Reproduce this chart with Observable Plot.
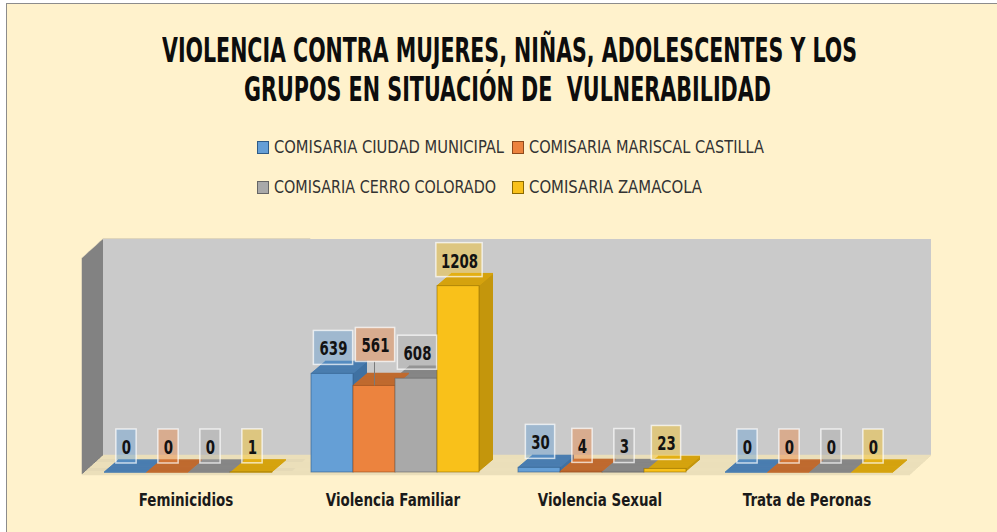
<!DOCTYPE html>
<html>
<head>
<meta charset="utf-8">
<script src="https://cdn.jsdelivr.net/npm/d3@7"></script>
<script src="https://cdn.jsdelivr.net/npm/@observablehq/plot@0.6"></script>
<style>
html, body { margin: 0; padding: 0; width: 997px; height: 532px; overflow: hidden; background: #ffffff; }
#bg { position: absolute; left: 6px; top: 3px; width: 1000px; height: 540px; background: #FFF2CC; border-left: 1px solid #8c8c8c; border-top: 1px solid #8c8c8c; }
.t { position: absolute; white-space: pre; line-height: 1; transform-origin: 0 0;
     font-family: "Liberation Sans Narrow", "DejaVu Sans Condensed", Lato, sans-serif; }
.title { font-size: 33px; font-weight: bold; color: #0d0d0d; }
.leg { font-size: 17px; color: #333333; }
.sw { position: absolute; width: 12px; height: 13px; box-sizing: border-box; border: 1px solid; }
#plot { position: absolute; left: 0; top: 215px; }
</style>
</head>
<body>
<div id="bg"></div>
<div id="plot"></div>
<script>
// ---------- data ----------
const categories = ["Feminicidios", "Violencia Familiar", "Violencia Sexual", "Trata de Peronas"];
const series = ["COMISARIA CIUDAD MUNICIPAL", "COMISARIA MARISCAL CASTILLA", "COMISARIA CERRO COLORADO", "COMISARIA ZAMACOLA"];
const ciudadMunicipal = [0, 639, 30, 0];
const mariscalCastilla = [0, 561, 4, 0];
const cerroColorado = [0, 608, 3, 0];
const zamacola = [1, 1208, 23, 0];
const valueAxis = [0, 1400];
const titleLines = ["VIOLENCIA CONTRA MUJERES, NIÑAS, ADOLESCENTES Y LOS", "GRUPOS EN SITUACIÓN DE  VULNERABILIDAD"];

// ---------- styles ----------
const frontColors = ["#659FD6", "#EC833E", "#A9A9A9", "#F9C11A"];
const sideColors  = ["#3F71A2", "#B0602A", "#7B7B7B", "#C4960C"];
const topColors   = ["#4A7DB0", "#BF6A2F", "#868686", "#D5A30F"];
const edgeColors  = ["#2E5B87", "#8F4A1C", "#666666", "#8C6A00"];
const FF = '"Liberation Sans Narrow", "DejaVu Sans Condensed", Lato, sans-serif';

// ---------- html title + legend ----------
function addText(cls, txt, left, top, w) {
  const el = document.createElement("div");
  el.className = "t " + cls;
  el.textContent = txt;
  el.style.left = left + "px";
  el.style.top = top + "px";
  document.body.appendChild(el);
  const ow = el.getBoundingClientRect().width;
  el.style.transform = `scaleX(${w / ow})`;
  return el;
}
addText("title", titleLines[0], 162, 34, 695);
addText("title", titleLines[1], 244, 73, 527);

const legPos = [[257, 139, 230], [512, 139, 235], [257, 179, 222], [512, 179, 173]];
series.forEach((s, i) => {
  const [x, y, w] = legPos[i];
  const sw = document.createElement("div");
  sw.className = "sw";
  sw.style.left = x + "px";
  sw.style.top = (y + 2) + "px";
  sw.style.background = frontColors[i];
  sw.style.borderColor = edgeColors[i];
  document.body.appendChild(sw);
  addText("leg", s, x + 17, y, w);
});

// ---------- rows ----------
const rows = [];
[ciudadMunicipal, mariscalCastilla, cerroColorado, zamacola].forEach((vals, si) =>
  vals.forEach((v, ci) => rows.push({cat: categories[ci], ser: series[si], si, v})));

// ---------- geometry (style constants) ----------
const W = 997, H = 317, ML = 81, MR = 86, MT = 43, MB = 58;
const PO = 0.427;
const band = (W - ML - MR) / categories.length / (series.length + 2 * PO);
const WD = 21, WH = 19;          // wall depth
const BX = 2, BY = -2, BD = 14, BS = 0.85; // bar offset / depth

const marks = [];
const wall = [{lo: valueAxis[0], hi: valueAxis[1], cat: categories[0]}];
// side wall (first facet only)
for (let i = 0; i <= WD; i++)
  marks.push(Plot.rect(wall, {fx: "cat", y1: "lo", y2: "hi", fill: "#828282", stroke: "#828282", strokeWidth: 0.5, dx: i, dy: -i * WH / WD}));
// back wall
marks.push(Plot.rect(wall, {y1: "lo", y2: "hi", fill: "#CACACA", dx: WD, dy: -WH}));
// floor
for (let i = 0; i <= WD; i++)
  marks.push(Plot.ruleY([valueAxis[0]], {stroke: "#EBDFBA", strokeWidth: 1.4, dx: i, dy: -i * WH / WD}));

// bars: side extrusion, top faces, front faces
for (let j = BD; j >= 1; j--)
  marks.push(Plot.barY(rows, {fx: "cat", x: "ser", y: "v", fill: d => sideColors[d.si], dx: BX + j, dy: BY - j * BS}));
for (let j = 0; j <= BD; j++)
  marks.push(Plot.barY(rows, {fx: "cat", x: "ser", y1: "v", y2: "v", insetTop: -0.8, insetBottom: -0.8,
    fill: d => topColors[d.si], dx: BX + j, dy: BY - j * BS}));
marks.push(Plot.barY(rows, {fx: "cat", x: "ser", y: "v", fill: d => frontColors[d.si],
  stroke: d => edgeColors[d.si], strokeWidth: 1, strokeOpacity: 0.6, dx: BX, dy: BY}));

// data labels
const boxW = {1: 21, 2: 30, 3: 40, 4: 47};
const isMoved = d => d.cat === categories[1] && d.si === 1;
function labels(sub, dy) {
  for (const n of [1, 2, 3, 4]) {
    const g = sub.filter(d => String(d.v).length === n);
    if (!g.length) continue;
    const ins = (band - boxW[n]) / 2;
    marks.push(Plot.barY(g, {fx: "cat", x: "ser", y1: "v", y2: "v", insetTop: -17, insetBottom: -17,
      insetLeft: ins, insetRight: ins, fill: d => frontColors[d.si], fillOpacity: 0.42,
      stroke: "#ffffff", strokeOpacity: 0.7, strokeWidth: 1.5, dx: BX + 1, dy}));
  }
  marks.push(Plot.text(sub, {fx: "cat", x: "ser", y: "v", text: d => String(d.v), dx: BX + 1, dy: dy + 1,
    fontSize: 20, fontWeight: "bold", fill: "#121212", fontFamily: FF}));
}
const moved = rows.filter(isMoved);
marks.push(Plot.ruleX(moved, {fx: "cat", x: "ser", y1: "v", y2: "v", insetTop: -24, dx: BX, dy: BY, stroke: "#7a7a7a", strokeWidth: 1}));
labels(rows.filter(d => !isMoved(d)), BY - 26);
labels(moved, BY - 41);

const chart = Plot.plot({
  width: W, height: H,
  marginLeft: ML, marginRight: MR, marginTop: MT, marginBottom: MB,
  fx: {domain: categories, padding: 0, axis: "bottom", tickSize: 0, tickPadding: 19, label: null},
  x: {domain: series, paddingInner: 0, paddingOuter: PO, axis: null},
  y: {domain: valueAxis, axis: null},
  color: {type: "identity"},
  style: {background: "transparent", fontFamily: FF, fontSize: "18px", fontWeight: "bold", color: "#1a1a1a", overflow: "visible"},
  marks
});
document.getElementById("plot").appendChild(chart);

// condense svg text (narrow, Calibri-like proportions)
function condense(sel, k) {
  d3.select(chart).selectAll(sel).each(function () {
    const len = this.getComputedTextLength();
    if (len > 0) { this.setAttribute("textLength", (len * k).toFixed(1)); this.setAttribute("lengthAdjust", "spacingAndGlyphs"); }
  });
}
condense('g[aria-label="fx-axis tick label"] text', 0.83);
condense('g[aria-label="text"] text', 0.74);
</script>
</body>
</html>
